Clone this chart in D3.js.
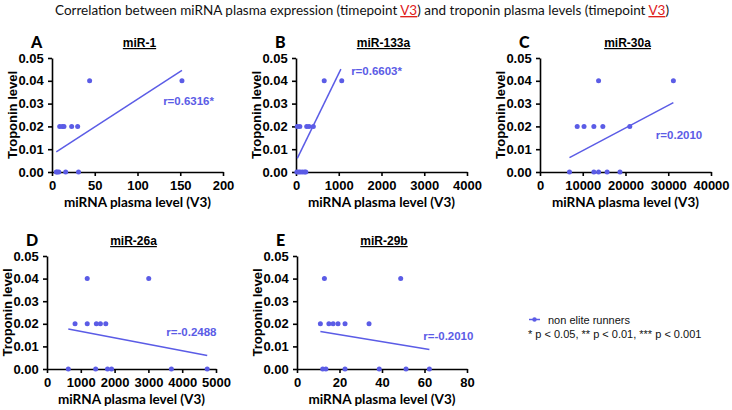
<!DOCTYPE html>
<html><head><meta charset="utf-8">
<script src="https://cdn.jsdelivr.net/npm/d3@7"></script>
<style>
body{margin:0;background:#fff;}
svg{display:block;}
.tick text{font-family:'Liberation Sans', Arial, sans-serif !important;font-weight:bold !important;font-size:13px !important;}
</style></head>
<body>
<svg id="chart" width="732" height="410"></svg>
<script>
// ---------- DATA ----------
const panelLetters = ["A", "B", "C", "D", "E"];
const panelTitles = ["miR-1", "miR-133a", "miR-30a", "miR-26a", "miR-29b"];
const xTickValues = [
  [0, 50, 100, 150, 200],
  [0, 1000, 2000, 3000, 4000],
  [0, 10000, 20000, 30000, 40000],
  [0, 1000, 2000, 3000, 4000, 5000],
  [0, 20, 40, 60, 80]
];
const yTickValues = [0, 0.01, 0.02, 0.03, 0.04, 0.05];
// points: [miRNA plasma level, troponin level]
const pointsA = [[44,0.04],[152,0.04],[9,0.02],[12,0.02],[14,0.02],[23,0.02],[30,0.02],[5,0],[6,0],[8,0],[16,0],[31,0]];
const pointsB = [[660,0.04],[1070,0.04],[30,0.02],[90,0.02],[250,0.02],[305,0.02],[405,0.02],[20,0],[60,0],[100,0],[150,0],[200,0],[230,0]];
const pointsC = [[13700,0.04],[31200,0.04],[8700,0.02],[10300,0.02],[12600,0.02],[14700,0.02],[21000,0.02],[6900,0],[12600,0],[13700,0],[15700,0],[18700,0]];
const pointsD = [[1190,0.04],[3010,0.04],[830,0.02],[1190,0.02],[1460,0.02],[1580,0.02],[1740,0.02],[630,0],[1440,0],[1790,0],[1910,0],[3680,0],[4740,0]];
const pointsE = [[12.9,0.04],[48.8,0.04],[11,0.02],[15,0.02],[17,0.02],[19.3,0.02],[22.6,0.02],[33.9,0.02],[12.1,0],[13.6,0],[22.6,0],[38.7,0],[51.3,0],[62.3,0]];
// regression line end points [x, y]
const fitA = [[5,0.0088],[152,0.0446]];
const fitB = [[30,0.0060],[1050,0.0451]];
const fitC = [[6900,0.0063],[31200,0.0304]];
const fitD = [[630,0.0177],[4740,0.0060]];
const fitE = [[11,0.0166],[62.3,0.0086]];
const rLabels = ["r=0.6316*", "r=0.6603*", "r=0.2010", "r=-0.2488", "r=-0.2010"];
const rLabelPos = [[130,0.0294],[1290,0.0426],[27100,0.0145],[3530,0.0147],[59.4,0.0129]];
const legendLabel = "non elite runners";
const sigNote = "* p < 0.05, ** p < 0.01, *** p < 0.001";
const xAxisTitle = "miRNA plasma level (V3)";
const yAxisTitle = "Troponin level";

// ---------- LAYOUT ----------
const color = "#5b5ce6";
const pts = [pointsA, pointsB, pointsC, pointsD, pointsE];
const fits = [fitA, fitB, fitC, fitD, fitE];
const boxes = [
  {l:52, t:58, w:171, h:114},
  {l:296, t:58, w:171, h:114},
  {l:540, t:58, w:171, h:114},
  {l:47, t:256, w:169, h:113},
  {l:297, t:256, w:170, h:113}
];
const svg = d3.select("#chart");

// Top title
const title = svg.append("text").attr("x", 362).attr("y", 15).attr("text-anchor", "middle")
  .style("font-family", "Lato, 'Open Sans', sans-serif").style("font-size", "13.5px").attr("fill", "#111");
title.append("tspan").text("Correlation between miRNA plasma expression (timepoint ");
title.append("tspan").text("V3").attr("fill", "#e0201b").style("text-decoration", "underline");
title.append("tspan").text(") and troponin plasma levels (timepoint ");
title.append("tspan").text("V3").attr("fill", "#e0201b").style("text-decoration", "underline");
title.append("tspan").text(")");

boxes.forEach((b, i) => {
  const xmax = xTickValues[i][xTickValues[i].length - 1];
  const x = d3.scaleLinear().domain([0, xmax]).range([b.l, b.l + b.w]);
  const y = d3.scaleLinear().domain([0, 0.05]).range([b.t + b.h, b.t]);
  const g = svg.append("g");

  const xa = g.append("g").attr("transform", `translate(0,${b.t + b.h})`)
    .call(d3.axisBottom(x).tickValues(xTickValues[i]).tickFormat(d3.format("d")).tickSize(4).tickSizeOuter(0));
  const ya = g.append("g").attr("transform", `translate(${b.l},0)`)
    .call(d3.axisLeft(y).tickValues(yTickValues).tickFormat(d3.format(".2f")).tickSize(4).tickSizeOuter(0));
  [xa, ya].forEach(a => {
    a.attr("font-family", "'Liberation Sans', Arial, sans-serif").attr("font-size", 13).attr("font-weight", "bold");
    a.selectAll("path,line").attr("stroke", "#000").attr("stroke-width", 1.6);
    a.selectAll("text").attr("fill", "#000");
  });
  xa.selectAll("text").attr("dy", "0.85em");
  ya.selectAll("text").attr("dx", "-0.1em");

  // regression line
  g.append("path").datum(fits[i])
    .attr("d", d3.line().x(d => x(d[0])).y(d => y(d[1])))
    .attr("stroke", color).attr("stroke-width", 1.5).attr("fill", "none");

  // points
  g.selectAll("circle.pt").data(pts[i]).join("circle").attr("class", "pt")
    .attr("cx", d => x(d[0])).attr("cy", d => y(d[1])).attr("r", 2.5).attr("fill", color);

  // r label
  g.append("text").attr("x", x(rLabelPos[i][0])).attr("y", y(rLabelPos[i][1]))
    .text(rLabels[i]).attr("fill", color)
    .style("font-family", "'Liberation Sans', Arial, sans-serif").style("font-size", "11.5px").style("font-weight", "bold");

  // panel title
  g.append("text").attr("x", b.l + b.w / 2 + 2).attr("y", b.t - 11).attr("text-anchor", "middle")
    .text(panelTitles[i]).style("text-decoration", "underline")
    .style("font-family", "'Liberation Sans', Arial, sans-serif").style("font-size", "12px").style("font-weight", "bold");

  // panel letter
  g.append("text").attr("x", b.l - 21).attr("y", b.t - 10).text(panelLetters[i])
    .style("font-family", "Lato, 'Open Sans', sans-serif").style("font-size", "16px").style("font-weight", "900");

  // y title
  g.append("text").attr("transform", `translate(${b.l - 35},${b.t + b.h / 2}) rotate(-90)`)
    .attr("text-anchor", "middle").text(yAxisTitle)
    .style("font-family", "'Liberation Sans', Arial, sans-serif").style("font-size", "13px").style("font-weight", "bold");

  // x title
  g.append("text").attr("x", b.l + b.w / 2).attr("y", b.t + b.h + 35).attr("text-anchor", "middle")
    .text(xAxisTitle)
    .style("font-family", "Lato, 'Open Sans', sans-serif").style("font-size", "13.5px").style("font-weight", "bold");
});

// legend
const lg = svg.append("g");
lg.append("line").attr("x1", 529).attr("x2", 540).attr("y1", 319.5).attr("y2", 319.5).attr("stroke", color).attr("stroke-width", 1.5);
lg.append("circle").attr("cx", 534.5).attr("cy", 319.5).attr("r", 2.2).attr("fill", color);
lg.append("text").attr("x", 548).attr("y", 323.5).text(legendLabel)
  .style("font-family", "'Liberation Sans', Arial, sans-serif").style("font-size", "11px").attr("fill", "#111");
lg.append("text").attr("x", 528).attr("y", 338).text(sigNote)
  .style("font-family", "'Liberation Sans', Arial, sans-serif").style("font-size", "11px").attr("fill", "#111");
</script>
</body></html>
